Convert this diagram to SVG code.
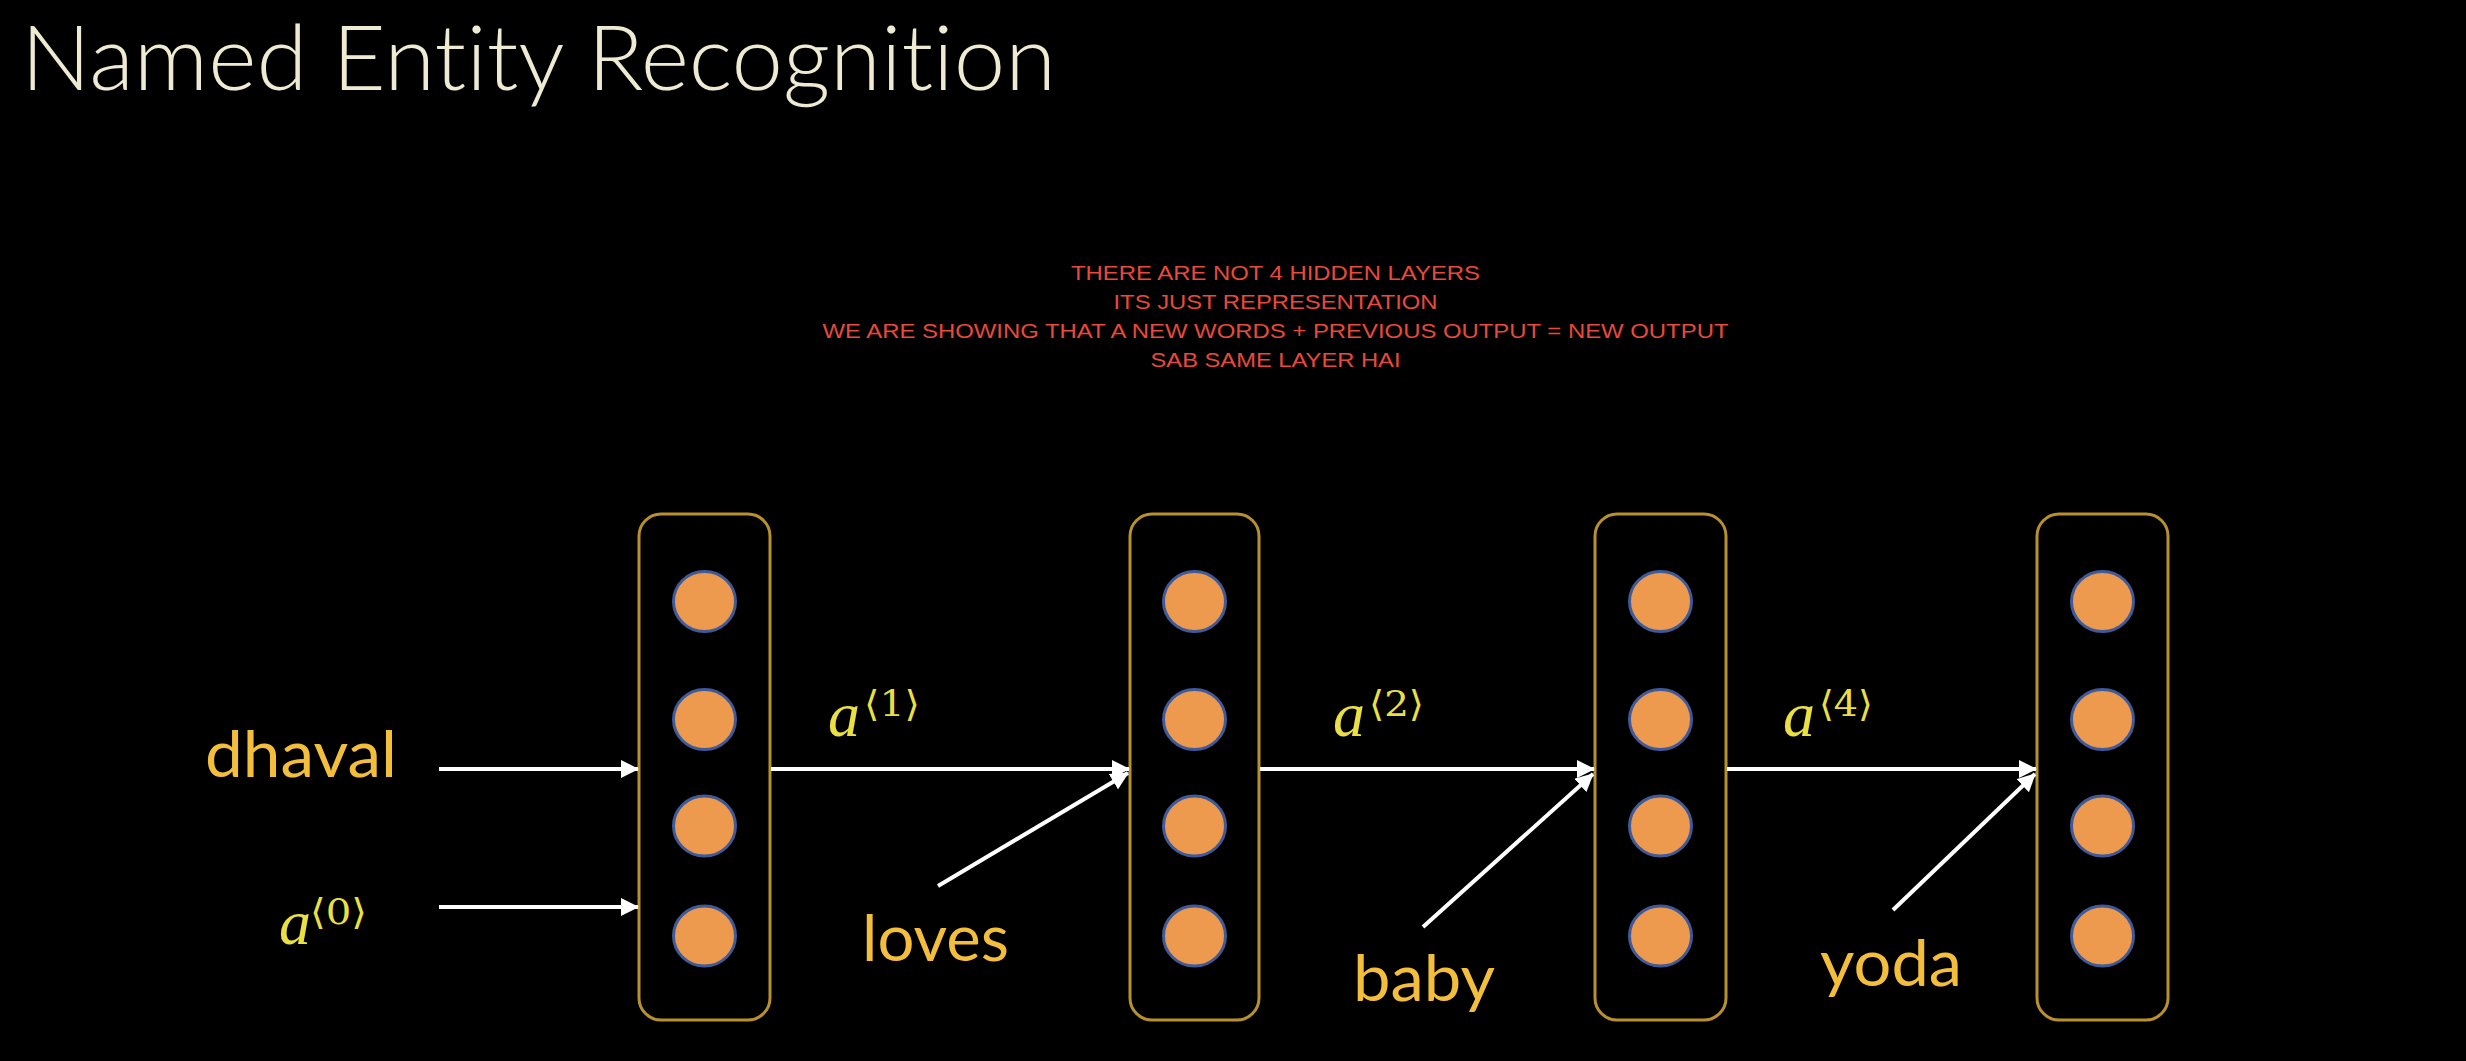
<svg xmlns="http://www.w3.org/2000/svg" width="2466" height="1061" viewBox="0 0 2466 1061">
  <style>
    .box { fill: none; stroke: #B8912E; stroke-width: 3; }
    .unit { fill: #EE9A4E; stroke: #3E5A9A; stroke-width: 3; }
    .word { font-family: Lato, "Open Sans", "Noto Sans", sans-serif; fill: #F2BE3C; }
    .avar { font-family: "Liberation Serif", "DejaVu Serif", serif; font-style: italic; fill: #EAE044; font-size: 64px; }
    .asup { font-family: "DejaVu Serif", "Liberation Serif", serif; fill: #EAE044; font-size: 36px; }
    .note { font-family: "Liberation Sans", Arial, sans-serif; font-size: 21px; fill: #E8493D; text-anchor: middle; }
    .arrow { stroke: #FFFFFF; stroke-width: 4; fill: none; marker-end: url(#head); }
  </style>
  <defs>
    <marker id="head" markerUnits="userSpaceOnUse" markerWidth="18" markerHeight="18" refX="17" refY="9" orient="auto">
      <path d="M0,0 L18,9 L0,18 Z" fill="#FFFFFF"/>
    </marker>
  </defs>
  <rect x="0" y="0" width="2466" height="1061" fill="#000000"/>

  <g id="title">
    <text x="21" y="90" font-family="Lato, 'Open Sans', sans-serif" font-weight="300" font-size="90" fill="#EFEBD2" style="font-variant-ligatures: none;" textLength="1035" lengthAdjust="spacingAndGlyphs">Named Entity Recognition</text>
  </g>

  <g id="note">
    <text class="note" x="1275.5" y="280" textLength="409" lengthAdjust="spacingAndGlyphs">THERE ARE NOT 4 HIDDEN LAYERS</text>
    <text class="note" x="1275.5" y="309" textLength="324" lengthAdjust="spacingAndGlyphs">ITS JUST REPRESENTATION</text>
    <text class="note" x="1275.5" y="338" textLength="906" lengthAdjust="spacingAndGlyphs">WE ARE SHOWING THAT A NEW WORDS + PREVIOUS OUTPUT = NEW OUTPUT</text>
    <text class="note" x="1275.5" y="367" textLength="250" lengthAdjust="spacingAndGlyphs">SAB SAME LAYER HAI</text>
  </g>

  <g id="layer1">
    <rect class="box" x="639" y="514" width="131" height="506" rx="22" ry="22"/>
    <ellipse class="unit" cx="704.5" cy="601.5" rx="31" ry="30"/>
    <ellipse class="unit" cx="704.5" cy="719.5" rx="31" ry="30"/>
    <ellipse class="unit" cx="704.5" cy="826" rx="31" ry="30"/>
    <ellipse class="unit" cx="704.5" cy="936" rx="31" ry="30"/>
  </g>
  <g id="layer2">
    <rect class="box" x="1130" y="514" width="129" height="506" rx="22" ry="22"/>
    <ellipse class="unit" cx="1194.5" cy="601.5" rx="31" ry="30"/>
    <ellipse class="unit" cx="1194.5" cy="719.5" rx="31" ry="30"/>
    <ellipse class="unit" cx="1194.5" cy="826" rx="31" ry="30"/>
    <ellipse class="unit" cx="1194.5" cy="936" rx="31" ry="30"/>
  </g>
  <g id="layer3">
    <rect class="box" x="1595" y="514" width="131" height="506" rx="22" ry="22"/>
    <ellipse class="unit" cx="1660.5" cy="601.5" rx="31" ry="30"/>
    <ellipse class="unit" cx="1660.5" cy="719.5" rx="31" ry="30"/>
    <ellipse class="unit" cx="1660.5" cy="826" rx="31" ry="30"/>
    <ellipse class="unit" cx="1660.5" cy="936" rx="31" ry="30"/>
  </g>
  <g id="layer4">
    <rect class="box" x="2037" y="514" width="131" height="506" rx="22" ry="22"/>
    <ellipse class="unit" cx="2102.5" cy="601.5" rx="31" ry="30"/>
    <ellipse class="unit" cx="2102.5" cy="719.5" rx="31" ry="30"/>
    <ellipse class="unit" cx="2102.5" cy="826" rx="31" ry="30"/>
    <ellipse class="unit" cx="2102.5" cy="936" rx="31" ry="30"/>
  </g>

  <g id="word-dhaval"><text class="word" x="205" y="777" font-size="64" textLength="192" lengthAdjust="spacingAndGlyphs">dhaval</text></g>
  <g id="word-loves"><text class="word" x="862" y="961" font-size="64" textLength="147" lengthAdjust="spacingAndGlyphs">loves</text></g>
  <g id="word-baby"><text class="word" x="1353" y="1001" font-size="64" textLength="142" lengthAdjust="spacingAndGlyphs">baby</text></g>
  <g id="word-yoda"><text class="word" x="1820" y="986" font-size="64" textLength="142" lengthAdjust="spacingAndGlyphs">yoda</text></g>

  <g id="a0">
    <text class="avar" x="279" y="944">a</text>
    <text class="asup" x="310" y="924" textLength="57" lengthAdjust="spacingAndGlyphs">⟨0⟩</text>
  </g>
  <g id="a1">
    <text class="avar" x="828" y="736">a</text>
    <text class="asup" x="864" y="716" textLength="56" lengthAdjust="spacingAndGlyphs">⟨1⟩</text>
  </g>
  <g id="a2">
    <text class="avar" x="1333" y="736">a</text>
    <text class="asup" x="1369" y="716" textLength="55" lengthAdjust="spacingAndGlyphs">⟨2⟩</text>
  </g>
  <g id="a4">
    <text class="avar" x="1783" y="736">a</text>
    <text class="asup" x="1819" y="716" textLength="54" lengthAdjust="spacingAndGlyphs">⟨4⟩</text>
  </g>

  <g id="connectors">
    <line class="arrow" x1="439" y1="769" x2="638" y2="769"/>
    <line class="arrow" x1="439" y1="907" x2="638" y2="907"/>
    <line class="arrow" x1="771" y1="769" x2="1129" y2="769"/>
    <line class="arrow" x1="1260" y1="769" x2="1594" y2="769"/>
    <line class="arrow" x1="1727" y1="769" x2="2036" y2="769"/>
    <line class="arrow" x1="938" y1="886" x2="1128" y2="773"/>
    <line class="arrow" x1="1423" y1="927" x2="1593" y2="774"/>
    <line class="arrow" x1="1893" y1="910" x2="2035" y2="774"/>
  </g>
</svg>
